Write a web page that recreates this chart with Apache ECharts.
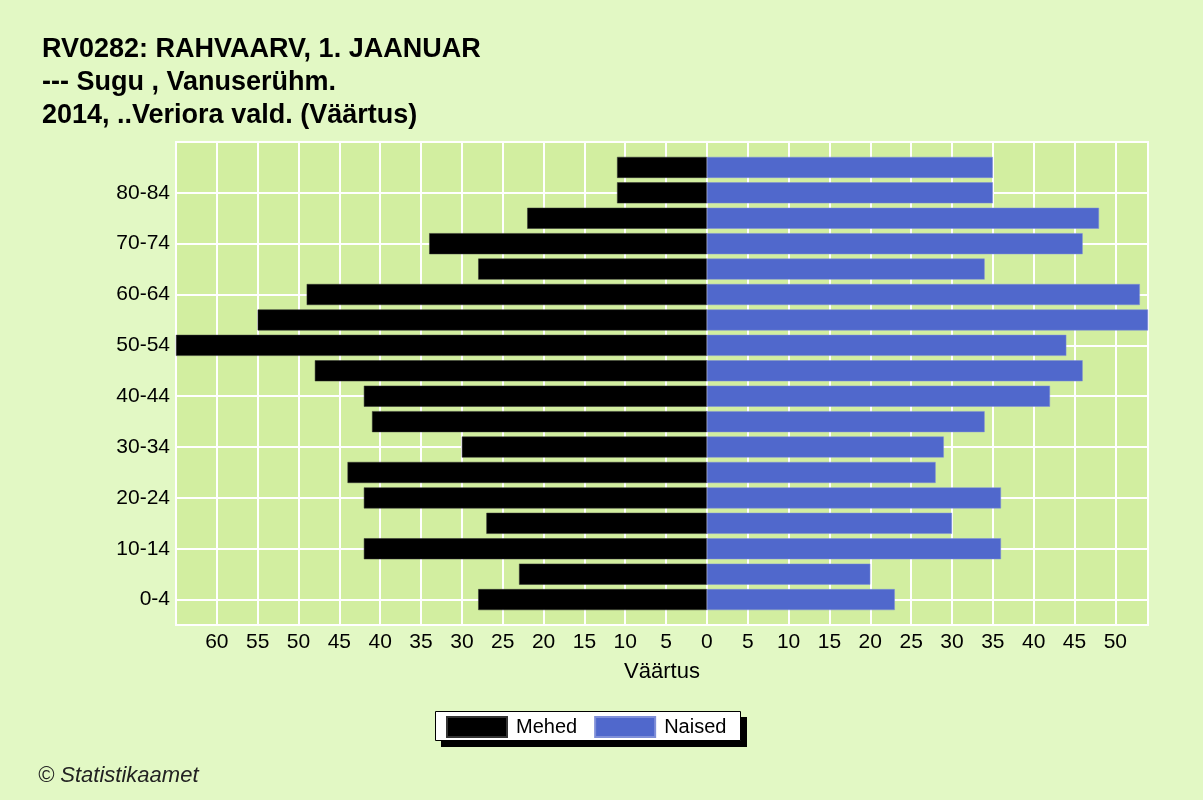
<!DOCTYPE html>
<html>
<head>
<meta charset="utf-8">
<script src="https://cdn.jsdelivr.net/npm/echarts@6/dist/echarts.min.js"></script>
<style>
  html, body { margin: 0; padding: 0; background: #e2f8c4; }
  #chart { width: 1203px; height: 800px; }
</style>
</head>
<body>
<div id="chart"></div>
<script>
// age groups from youngest to oldest
var ageGroups = ['0-4', '5-9', '10-14', '15-19', '20-24', '25-29', '30-34', '35-39', '40-44',
  '45-49', '50-54', '55-59', '60-64', '65-69', '70-74', '75-79', '80-84', '85+'];
var mehed = [28, 23, 42, 27, 42, 44, 30, 41, 42, 48, 65, 55, 49, 28, 34, 22, 11, 11];
var naised = [23, 20, 36, 30, 36, 28, 29, 34, 42, 46, 44, 54, 53, 34, 46, 48, 35, 35];

var titleLines = ['RV0282: RAHVAARV, 1. JAANUAR', '--- Sugu , Vanuserühm.', '2014, ..Veriora vald. (Väärtus)'];

// one empty slot at each end so the plot runs a row past the first and last group
var cats = [''].concat(ageGroups, ['']);
var menData = [null].concat(mehed.map(function (v) { return -v; }), [null]);
var womenData = [null].concat(naised, [null]);

function shownRow(i) {
  return i % 2 === 1 && i <= ageGroups.length - 1;
}

var chart = echarts.init(document.getElementById('chart'));
var option = {
  backgroundColor: '#e2f8c4',
  animation: false,
  textStyle: { fontFamily: 'Liberation Sans, Arial, sans-serif' },
  title: [{
    text: titleLines.join('\n'),
    left: 42,
    top: 33,
    padding: 0,
    textStyle: { fontSize: 27, fontWeight: 'bold', color: '#000', lineHeight: 33 }
  }, {
    text: '© Statistikaamet',
    left: 38,
    top: 765,
    padding: 0,
    textStyle: { fontSize: 22, fontWeight: 'normal', fontStyle: 'italic', color: '#222' }
  }],
  // legend frame with its hard drop shadow
  graphic: [{
    type: 'rect',
    z: 1,
    shape: { x: 441, y: 717, width: 306, height: 30 },
    style: { fill: '#000' }
  }, {
    type: 'rect',
    z: 2,
    shape: { x: 435.5, y: 711.5, width: 305, height: 29 },
    style: { fill: '#fff', stroke: '#000', lineWidth: 1 }
  }],
  legend: {
    data: ['Mehed', 'Naised'],
    left: 446,
    top: 716,
    icon: 'rect',
    itemWidth: 60,
    itemHeight: 20,
    itemGap: 17,
    padding: 0,
    z: 10,
    textStyle: { fontSize: 20, color: '#000', padding: [0, 0, 0, 4] }
  },
  grid: {
    left: 176,
    right: 55,
    top: 142,
    bottom: 175,
    show: true,
    backgroundColor: '#d2eea0',
    borderColor: '#fff',
    borderWidth: 2
  },
  xAxis: {
    type: 'value',
    min: -65,
    max: 54,
    interval: 5,
    name: 'Väärtus',
    nameLocation: 'middle',
    nameGap: 36,
    nameTextStyle: { fontSize: 22, color: '#000' },
    axisLine: { show: false },
    axisTick: { show: false },
    axisLabel: {
      fontSize: 21,
      color: '#000',
      margin: 7,
      showMinLabel: false,
      showMaxLabel: false,
      formatter: function (v) { return Math.abs(v); }
    },
    splitLine: { show: true, lineStyle: { color: '#fff', width: 2 } }
  },
  yAxis: {
    type: 'category',
    data: cats,
    boundaryGap: false,
    axisLine: { show: false },
    axisTick: { show: false },
    axisLabel: {
      fontSize: 21,
      color: '#000',
      margin: 6,
      interval: function (i) { return shownRow(i); }
    },
    splitLine: {
      show: true,
      interval: function (i) { return shownRow(i); },
      lineStyle: { color: '#fff', width: 2 }
    }
  },
  series: [{
    name: 'Mehed',
    type: 'bar',
    stack: 'p',
    barWidth: 21,
    data: menData,
    itemStyle: { color: '#000', borderColor: '#333', borderWidth: 0.5 }
  }, {
    name: 'Naised',
    type: 'bar',
    stack: 'p',
    barWidth: 21,
    data: womenData,
    itemStyle: { color: '#5068cc', borderColor: '#7f8fd8', borderWidth: 0.5 }
  }]
};
chart.setOption(option);
</script>
</body>
</html>
